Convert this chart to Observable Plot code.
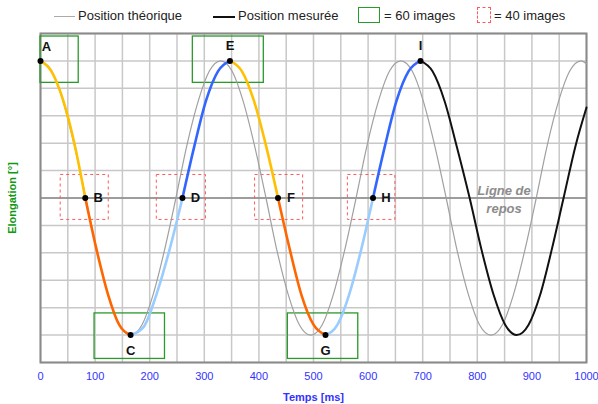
<!DOCTYPE html>
<html><head><meta charset="utf-8">
<script src="https://cdn.jsdelivr.net/npm/d3@7"></script>
<script src="https://cdn.jsdelivr.net/npm/@observablehq/plot@0.6"></script>
<style>
body{margin:0;background:#fff;font-family:"Liberation Sans",Arial,sans-serif;}
#wrap{position:relative;width:598px;height:404px;}
#legend{position:absolute;left:0;top:0;width:598px;height:30px;font-size:13px;color:#222;z-index:2;}
#legend .ln{position:absolute;height:0;}
#legend .tx{position:absolute;top:8px;line-height:16px;white-space:nowrap;}
#legend .bx{position:absolute;box-sizing:border-box;}
#chart{position:absolute;left:0;top:0;}
</style></head>
<body>
<div id="wrap">
  <div id="legend">
    <div class="ln" style="left:54px;top:16px;width:21px;border-top:1.5px solid #aaaaaa;"></div>
    <div class="tx" style="left:78px;">Position théorique</div>
    <div class="ln" style="left:213px;top:16px;width:22px;border-top:2px solid #111;"></div>
    <div class="tx" style="left:238px;">Position mesurée</div>
    <div class="bx" style="left:358px;top:7px;width:22px;height:16px;border:1.5px solid #2a9a2a;"></div>
    <div class="tx" style="left:384px;">= 60 images</div>
    <div class="bx" style="left:477px;top:7px;width:14px;height:16px;border:1px dashed #ff5a5a;"></div>
    <div class="tx" style="left:494px;">= 40 images</div>
  </div>
  <div id="chart"></div>
</div>
<script>
// ---- data ----
const xTicks = [0,100,200,300,400,500,600,700,800,900,1000];
const xGrid = [0,50,100,150,200,250,300,350,400,450,500,550,600,650,700,750,800,850,900,950,1000];
const yGrid = [-6,-5,-4,-3,-2,-1,0,1,2,3,4,5,6];

// theoretical position (gray)
const theoT = [0,21,41,62,83,103,124,144,165,186,206,227,248,268,289,309,330,351,371,392,413,433,454,474,495,516,536,557,578,598,619,639,660,681,701,722,743,763,784,804,825,846,866,887,908,928,949,969,990,1000];
const theoV = [5,4.62,3.54,1.91,0,-1.91,-3.54,-4.62,-5,-4.62,-3.54,-1.91,0,1.91,3.54,4.62,
               5,4.62,3.54,1.91,0,-1.91,-3.54,-4.62,-5,-4.62,-3.54,-1.91,0,1.91,3.54,4.62,
               5,4.62,3.54,1.91,0,-1.91,-3.54,-4.62,-5,-4.62,-3.54,-1.91,0,1.91,3.54,4.62,
               5,4.9];

// measured position, split into coloured segments
const measT = [
  0,20,41,62,82,
  82,103,124,144,165,
  165,189,212,236,260,
  260,282,303,325,347,
  347,369,391,413,435,
  435,457,478,500,522,
  522,544,565,587,609,
  609,631,652,674,696,
  696,718,740,762,786,808,830,851,872,894,915,936,958,980,1000
];
const measV = [
  5,4.62,3.6,2.0,0,
  0,-1.91,-3.54,-4.62,-5,
  -5,-4.7,-3.54,-1.91,0,
  0,1.91,3.54,4.62,5,
  5,4.62,3.54,1.91,0,
  0,-1.91,-3.54,-4.62,-5,
  -5,-4.62,-3.54,-1.91,0,
  0,1.91,3.54,4.62,5,
  5,4.62,3.54,1.91,0,-1.91,-3.54,-4.62,-5,-4.62,-3.54,-1.91,0,1.91,3.3
];
const measSeg = [
  0,0,0,0,0, 1,1,1,1,1, 2,2,2,2,2, 3,3,3,3,3, 4,4,4,4,4, 5,5,5,5,5, 6,6,6,6,6, 7,7,7,7,7,
  8,8,8,8,8,8,8,8,8,8,8,8,8,8,8
];
const segColors = ["#ffc000","#ff6600","#99ccff","#3366ff","#ffc000","#ff6600","#99ccff","#3366ff","#111111"];

// labelled points
const ptNames = ["A","B","C","D","E","F","G","H","I"];
const ptT = [0,82,165,260,347,435,522,609,696];
const ptV = [5,0,-5,0,5,0,-5,0,5];

// "60 images" boxes
const g60X1 = [0,279,99,453], g60X2 = [70,409,228,582];
const g60Y1 = [4.2,4.2,-5.87,-5.87], g60Y2 = [5.89,5.89,-4.21,-4.21];
// "40 images" boxes
const r40X1 = [37,213,393,563], r40X2 = [125,303,481,650];
const r40Y1 = [-0.8,-0.8,-0.8,-0.8], r40Y2 = [0.84,0.84,0.84,0.84];

const restLabel = {t: 849, v: 0, text: "Ligne de\nrepos"};

// ---- build ----
const theo = theoT.map((t,i)=>({t, v: theoV[i]}));
const meas = measT.map((t,i)=>({t, v: measV[i], s: measSeg[i]}));
const pts = ptNames.map((n,i)=>({n, t: ptT[i], v: ptV[i]}));
const g60 = g60X1.map((x,i)=>({x1:x, x2:g60X2[i], y1:g60Y1[i], y2:g60Y2[i]}));
const r40 = r40X1.map((x,i)=>({x1:x, x2:r40X2[i], y1:r40Y1[i], y2:r40Y2[i]}));

const segMarks = segColors.map((c,k)=>Plot.line(meas.filter(d=>d.s===k), {
  x:"t", y:"v", stroke:c, strokeWidth: k===8 ? 2 : 2.6, curve:"monotone-x"
}));

const lblFont = {text:"n", x:"t", y:"v", fontSize:13, fontWeight:"bold", fill:"#111"};

const chart = Plot.plot({
  width: 598, height: 404,
  marginTop: 33, marginBottom: 42, marginLeft: 40, marginRight: 12,
  x: {domain:[0,1000]},
  y: {domain:[-6,6]},
  style: {fontFamily:"Liberation Sans, Arial, sans-serif", background:"transparent", overflow:"visible"},
  marks: [
    Plot.gridX(xGrid, {stroke:"#c8c8c8", strokeOpacity:1, strokeWidth:1.5}),
    Plot.gridY(yGrid, {stroke:"#c8c8c8", strokeOpacity:1, strokeWidth:1.5}),
    Plot.ruleY([0], {stroke:"#8a8a8a", strokeWidth:1.5}),
    Plot.frame({stroke:"#8a8a8a", strokeWidth:2}),
    Plot.axisX(xTicks, {tickSize:0, tickPadding:10, fontSize:11, fill:"#3333ff", tickFormat:d=>String(d),
      label:"Temps [ms]", labelAnchor:"center", labelArrow:"none", labelOffset:38}),
    Plot.axisY([], {label:"Elongation [°]", labelAnchor:"center", labelArrow:"none", labelOffset:32, fontSize:11, fill:"#119911"}),
    Plot.rect(g60, {x1:"x1", x2:"x2", y1:"y1", y2:"y2", fill:"none", stroke:"#2a9a2a", strokeWidth:1.3}),
    Plot.rect(r40, {x1:"x1", x2:"x2", y1:"y1", y2:"y2", fill:"none", stroke:"#ff5a5a", strokeWidth:1, strokeDasharray:"3,3"}),
    Plot.line(theo, {x:"t", y:"v", stroke:"#a0a0a0", strokeWidth:1.2, curve:"monotone-x"}),
    ...segMarks,
    Plot.dot(pts, {x:"t", y:"v", r:3, fill:"#000", stroke:"none"}),
    Plot.text(pts.filter(d=>d.t===0), {...lblFont, dx:6, dy:-14}),
    Plot.text(pts.filter(d=>d.v===5 && d.t>0), {...lblFont, dy:-15}),
    Plot.text(pts.filter(d=>d.v===-5), {...lblFont, dy:16}),
    Plot.text(pts.filter(d=>d.v===0), {...lblFont, dx:13}),
    Plot.text([restLabel], {x:"t", y:"v", text:"text", fontSize:13, fontWeight:"bold", fontStyle:"italic",
      fill:"#8c8c8c", lineHeight:1.45, lineAnchor:"middle"})
  ]
});
document.getElementById("chart").appendChild(chart);
const sel = d3.select(chart);
sel.selectAll('g[aria-label="x-axis label"] text').attr("fill","#3333ff").attr("font-weight","bold");
sel.selectAll('g[aria-label="y-axis label"] text').attr("fill","#119911").attr("font-weight","bold");
sel.selectAll('g[aria-label="x-axis label"] text, g[aria-label="y-axis label"] text').each(function(){
  this.textContent = this.textContent.replace(/[\u2190-\u2193]/g,"").trim();
});
</script>
</body></html>
